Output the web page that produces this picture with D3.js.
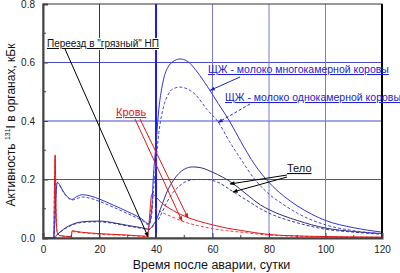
<!DOCTYPE html>
<html><head><meta charset="utf-8">
<script src="https://cdn.jsdelivr.net/npm/d3@7"></script>
<style>body{margin:0;background:#fff}svg{display:block;font-family:"Liberation Sans",Arial,sans-serif}</style>
</head><body><svg id="c" width="400" height="273"></svg>
<script>
// Data (days after accident, activity kBq)
const xTicks = [0, 20, 40, 60, 80, 100, 120];
const yTicks = [0.0, 0.2, 0.4, 0.6, 0.8];
const milkMultiDays = [0,3.8,4.2,4.6,5.1,6,7,8,9,10.3,12,14,17,20,25,30,35,37.5,38.5,39,40,41,42,43,44,46,48.5,51,54,57,59,62,66,70,75,80,85,90,100,110,120];
const milkMultiVals = [0,0,0.06,0.15,0.19,0.18,0.162,0.148,0.138,0.132,0.142,0.148,0.143,0.133,0.112,0.09,0.065,0.048,0.1,0.2,0.32,0.44,0.51,0.555,0.58,0.603,0.612,0.605,0.575,0.535,0.506,0.46,0.4,0.33,0.25,0.19,0.145,0.11,0.06,0.035,0.02];
const milkSingleDays = [0,3.8,4.2,4.6,5.1,6,7,8,9,10.3,12,14,17,20,25,30,35,37.5,38.5,39,40,41,42,43,44,46,48.5,51,54,58,62,66,70,75,80,85,90,100,110,120];
const milkSingleVals = [0,0,0.06,0.15,0.19,0.178,0.16,0.146,0.136,0.13,0.135,0.14,0.135,0.125,0.105,0.083,0.06,0.045,0.08,0.15,0.26,0.36,0.42,0.46,0.485,0.51,0.516,0.51,0.49,0.44,0.397,0.33,0.27,0.2,0.15,0.115,0.085,0.045,0.025,0.015];
const bodyMultiDays = [0,4,5,6,8,10,12,16,20,25,30,35,37.5,39,40,42,44,46,48,50,53,56,60,67,72,77,80,90,100,110,120];
const bodyMultiVals = [0,0,0.012,0.02,0.035,0.045,0.052,0.057,0.058,0.052,0.043,0.035,0.03,0.045,0.06,0.11,0.16,0.195,0.22,0.235,0.243,0.24,0.225,0.188,0.15,0.113,0.097,0.06,0.034,0.022,0.015];
const bodySingleDays = [0,4,5,6,8,10,12,16,20,25,30,35,37.5,39,40,42,44,46,48,50,54,58,62,67,72,77,80,90,100,110,120];
const bodySingleVals = [0,0,0.011,0.019,0.033,0.043,0.05,0.055,0.055,0.05,0.041,0.033,0.029,0.04,0.05,0.085,0.125,0.155,0.175,0.19,0.2,0.2,0.19,0.16,0.13,0.1,0.085,0.052,0.03,0.02,0.013];
const bloodMultiDays = [0,3.8,4.1,4.3,4.6,5,6,10,10.3,12,20,30,37,37.6,38.5,40,42,45,50,55,60,65,70,80,90,100,120];
const bloodMultiVals = [0,0,0.2,0.284,0.1,0.02,0.008,0.005,0.025,0.022,0.015,0.01,0.006,0.06,0.15,0.14,0.12,0.1,0.075,0.058,0.045,0.034,0.026,0.012,0.007,0.005,0.003];
const bloodSingleDays = [0,3.8,4.1,4.3,4.6,5,6,10,10.3,12,20,30,37,37.6,38.5,40,42,45,50,55,60,65,70,80,90,100,120];
const bloodSingleVals = [0,0,0.2,0.28,0.1,0.02,0.008,0.005,0.022,0.02,0.013,0.009,0.005,0.045,0.11,0.1,0.088,0.075,0.055,0.042,0.032,0.025,0.02,0.01,0.006,0.004,0.002];
const labelMove = 'Переезд в "грязный" НП';
const labelMilkMulti = 'ЩЖ - молоко многокамерной коровы';
const labelMilkSingle = 'ЩЖ - молоко однокамерной коровы';
const labelBlood = 'Кровь';
const labelBody = 'Тело';

const svg = d3.select('#c');
const L = 43, R = 382, T = 4, B = 238;
const x = d3.scaleLinear().domain([0, 120]).range([L, R]);
const y = d3.scaleLinear().domain([0, 0.8]).range([B, T]);

// grid
const g = svg.append('g');
[0.2, 0.4, 0.6].forEach(v => g.append('line').attr('x1', L).attr('x2', R).attr('y1', y(v)).attr('y2', y(v)).attr('stroke', '#4a4ac8').attr('stroke-width', 1));
[20, 40, 60, 80, 100].forEach(d => g.append('line').attr('x1', x(d)).attr('x2', x(d)).attr('y1', T).attr('y2', B)
  .attr('stroke', d === 40 ? '#1a1aff' : (d === 20 ? '#2c2c8c' : '#7a7ad6')).attr('stroke-width', d === 40 ? 2 : 1));

// curves
const line = d3.line().x(p => x(p[0])).y(p => y(p[1])).curve(d3.curveMonotoneX);
function draw(days, vals, color, dash, w) {
  svg.append('path').datum(days.map((d, i) => [d, vals[i]])).attr('d', line).attr('fill', 'none')
    .attr('stroke', color).attr('stroke-width', w || 1).attr('stroke-dasharray', dash || null);
}
draw(bloodSingleDays, bloodSingleVals, '#f04040', '3,2');
draw(bloodMultiDays, bloodMultiVals, '#e01818');
draw(bodySingleDays, bodySingleVals, '#3a3a96', '3,2');
draw(bodyMultiDays, bodyMultiVals, '#2e2e88');
draw(milkSingleDays, milkSingleVals, '#4646d8', '3,2');
draw(milkMultiDays, milkMultiVals, '#3434d0');

// frame
svg.append('rect').attr('x', L).attr('y', T).attr('width', R - L).attr('height', B - T).attr('fill', 'none').attr('stroke', '#333').attr('stroke-width', 1);
svg.append('line').attr('x1', R).attr('x2', R).attr('y1', T).attr('y2', B).attr('stroke', '#000').attr('stroke-width', 2);

// axes
const ax = d3.axisBottom(x).tickValues(xTicks).tickSize(-5).tickPadding(8).tickFormat(d3.format('d'));
const gx = svg.append('g').attr('transform', `translate(0,${B})`).call(ax);
const ay = d3.axisLeft(y).tickValues(yTicks).tickSize(-5).tickPadding(8).tickFormat(d3.format('.1f'));
const gy = svg.append('g').attr('transform', `translate(${L},0)`).call(ay);
[gx, gy].forEach(a => {
  a.select('.domain').attr('stroke', '#444').attr('stroke-width', 2);
  a.selectAll('.tick line').attr('stroke', '#444');
  a.selectAll('text').attr('font-size', 10).attr('fill', '#222').attr('font-family', '"Liberation Sans",Arial,sans-serif');
});
// minor ticks
[10, 30, 50, 70, 90, 110].forEach(d => svg.append('line').attr('x1', x(d)).attr('x2', x(d)).attr('y1', B).attr('y2', B - 3).attr('stroke', '#444'));
[0.1, 0.3, 0.5, 0.7].forEach(v => svg.append('line').attr('x1', L).attr('x2', L + 3).attr('y1', y(v)).attr('y2', y(v)).attr('stroke', '#444'));

// axis titles
svg.append('text').attr('x', (L + R) / 2 - 1).attr('y', 269).attr('text-anchor', 'middle').attr('font-size', 12.5).attr('fill', '#111').text('Время после аварии, сутки');
const yt = svg.append('text').attr('transform', `translate(15,${(T + B) / 2 + 4}) rotate(-90)`).attr('text-anchor', 'middle').attr('font-size', 12).attr('fill', '#111');
yt.append('tspan').text('Активность ');
yt.append('tspan').attr('font-size', 7).attr('dy', -5).text('131');
yt.append('tspan').attr('dy', 5).text('I в органах, кБк');

// markers
const defs = svg.append('defs');
function marker(id, color) {
  defs.append('marker').attr('id', id).attr('viewBox', '0 0 10 10').attr('refX', 9).attr('refY', 5)
    .attr('markerWidth', 6).attr('markerHeight', 5).attr('orient', 'auto-start-reverse')
    .append('path').attr('d', 'M0,1 L10,5 L0,9 Z').attr('fill', color);
}
marker('mk', '#000'); marker('mb', '#2222cc'); marker('mr', '#e01818');
function arrow(x1, y1, x2, y2, color, mk, dash) {
  svg.append('line').attr('x1', x1).attr('y1', y1).attr('x2', x2).attr('y2', y2).attr('stroke', color)
    .attr('stroke-width', 1).attr('stroke-dasharray', dash || null).attr('marker-end', `url(#${mk})`);
}
function label(tx, ty, txt, color, size, bg) {
  const t = svg.append('text').attr('x', tx).attr('y', ty).attr('font-size', size).attr('fill', color)
    .attr('text-decoration', 'underline').text(txt);
  if (bg) {
    const b = t.node().getBBox();
    svg.insert('rect', () => t.node()).attr('x', b.x - 1).attr('y', b.y).attr('width', b.width + 2).attr('height', b.height + 1).attr('fill', '#fff');
  }
  return t;
}
label(47, 47, labelMove, '#111', 10, true);
arrow(65, 49, x(37.2), y(0.004), '#000', 'mk');
label(208, 73, labelMilkMulti, '#2222cc', 10.5);
arrow(240, 77, x(59.2), y(0.505), '#2222cc', 'mb');
label(225, 101, labelMilkSingle, '#2222cc', 10.5);
arrow(250, 104, x(62), y(0.395), '#2222cc', 'mb', '3,2');
label(116, 116, labelBlood, '#e01818', 11);
arrow(135, 119, 182, 221, '#e01818', 'mr');
arrow(140, 119, 188, 218, '#e01818', 'mr');
label(287, 172, labelBody, '#111', 11);
arrow(287, 175, 230, 184, '#000', 'mk');
arrow(287, 177, 233, 192, '#000', 'mk');
</script></body></html>
